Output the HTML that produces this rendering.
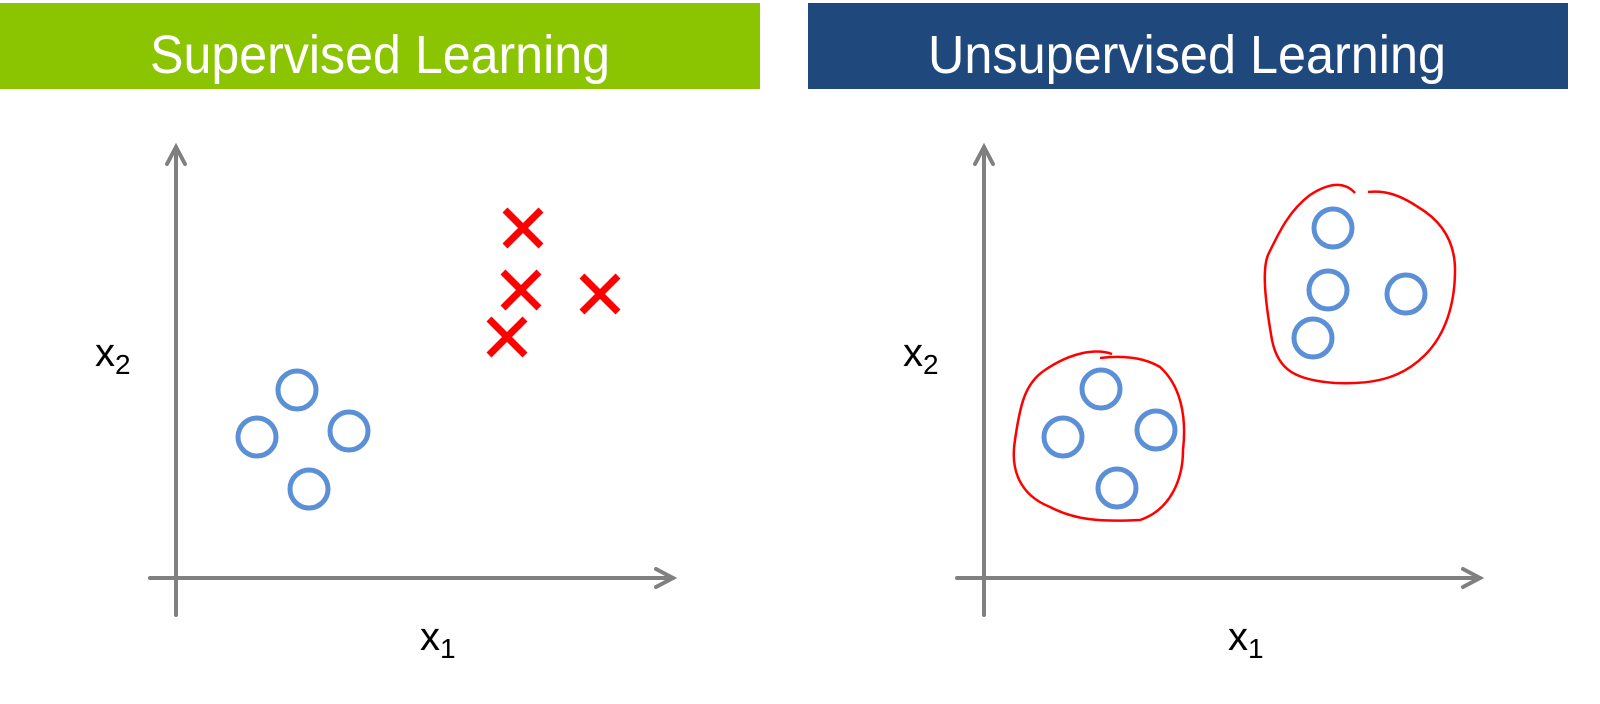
<!DOCTYPE html>
<html><head><meta charset="utf-8"><style>html,body{margin:0;padding:0;background:#fff;width:1600px;height:704px;overflow:hidden}</style></head>
<body>
<svg width="1600" height="704" viewBox="0 0 1600 704" xmlns="http://www.w3.org/2000/svg">
<rect x="0" y="3" width="760" height="86" fill="#8bc400"/>
<rect x="808" y="3" width="760" height="86" fill="#1f497d"/>
<text x="150" y="73" font-family="Liberation Sans, sans-serif" font-size="54" fill="#fff" textLength="460" lengthAdjust="spacingAndGlyphs">Supervised Learning</text>
<text x="928" y="73" font-family="Liberation Sans, sans-serif" font-size="54" fill="#fff" textLength="518" lengthAdjust="spacingAndGlyphs">Unsupervised Learning</text>
<g stroke="#808080" stroke-width="4" fill="none" stroke-linecap="round">
<line x1="176" y1="615" x2="176" y2="147"/><polyline points="167,164 176,147 185,164"/>
<line x1="150" y1="578" x2="673" y2="578"/><polyline points="656,569 673,578 656,587"/>
<line x1="984" y1="615" x2="984" y2="147"/><polyline points="975,164 984,147 993,164"/>
<line x1="957" y1="578" x2="1480" y2="578"/><polyline points="1463,569 1480,578 1463,587"/>
</g>
<g stroke="#5b8fd6" stroke-width="5" fill="none">
<circle cx="297" cy="390" r="19"/><circle cx="257" cy="437" r="19"/><circle cx="349" cy="431" r="19"/><circle cx="309" cy="489" r="19"/>
<circle cx="1333" cy="228" r="19"/><circle cx="1328" cy="290" r="19"/><circle cx="1406" cy="294" r="19"/><circle cx="1313" cy="338" r="19"/>
<circle cx="1101" cy="389" r="19"/><circle cx="1063" cy="437" r="19"/><circle cx="1156" cy="430" r="19"/><circle cx="1117" cy="488" r="19"/>
</g>
<g stroke="#ff0000" stroke-width="7">
<path d="M505 210L541 246M541 210L505 246"/>
<path d="M503 272L539 308M539 272L503 308"/>
<path d="M582 276L618 312M618 276L582 312"/>
<path d="M489 319L525 355M525 319L489 355"/>
</g>
<g stroke="#ff0000" stroke-width="2.5" fill="none">
<path d="M1112 354C1095 348 1070 353 1045 370C1025 383 1020 405 1015 440C1010 470 1020 495 1050 507C1075 520 1100 522 1140 520C1170 510 1183 480 1183 450C1187 415 1180 385 1160 367C1145 358 1125 355 1100 358"/>
<path d="M1355 193C1345 182 1330 182 1310 195C1290 210 1280 230 1268 255C1262 270 1265 300 1272 340C1278 370 1295 380 1335 383C1380 385 1405 375 1425 355C1445 335 1455 305 1455 270C1455 240 1440 220 1418 207C1400 195 1385 190 1368 192"/>
</g>
<g font-family="Liberation Sans, sans-serif" fill="#000">
<text x="95" y="366" font-size="40">x<tspan font-size="28" dy="8">2</tspan></text>
<text x="420" y="650" font-size="40">x<tspan font-size="28" dy="8">1</tspan></text>
<text x="903" y="366" font-size="40">x<tspan font-size="28" dy="8">2</tspan></text>
<text x="1228" y="650" font-size="40">x<tspan font-size="28" dy="8">1</tspan></text>
</g>
</svg>
</body></html>
